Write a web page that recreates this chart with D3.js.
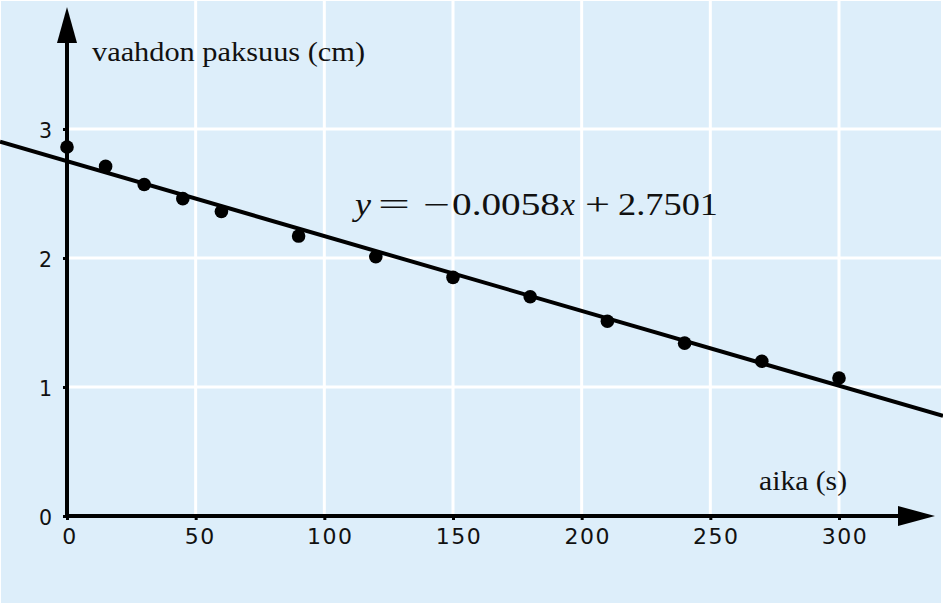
<!DOCTYPE html>
<html>
<head>
<meta charset="utf-8">
<script src="https://cdn.jsdelivr.net/npm/d3@7"></script>
<style>
html,body{margin:0;padding:0;background:#fff;}
svg{display:block;}
</style>
</head>
<body>
<script>
const timesS = [0, 15, 30, 45, 60, 90, 120, 150, 180, 210, 240, 270, 300];
const thicknessCm = [2.86, 2.71, 2.57, 2.46, 2.36, 2.17, 2.01, 1.85, 1.70, 1.51, 1.34, 1.20, 1.07];
const xTicks = [0, 50, 100, 150, 200, 250, 300];
const yTicks = [0, 1, 2, 3];
const slope = -0.0058, intercept = 2.7501;
const yLabel = "vaahdon paksuus (cm)";
const xLabel = "aika (s)";

const W = 943, H = 605;
const svg = d3.select("body").append("svg").attr("width", W).attr("height", H);

const x = d3.scaleLinear().domain([0, 300]).range([67, 839]);
const y = d3.scaleLinear().domain([0, 3]).range([516, 129]);

// background
svg.append("rect").attr("x", 1).attr("y", 1).attr("width", 940).attr("height", 602).attr("fill", "#ddeefa");

// grid
const g = svg.append("g");
g.selectAll("line.v").data(xTicks.filter(d => d > 0)).join("line")
  .attr("x1", d => x(d)).attr("x2", d => x(d)).attr("y1", y(0)).attr("y2", 1)
  .attr("stroke", "#fff").attr("stroke-width", 3);
g.selectAll("line.h").data(yTicks.filter(d => d > 0)).join("line")
  .attr("x1", x(0)).attr("x2", 941).attr("y1", d => y(d)).attr("y2", d => y(d))
  .attr("stroke", "#fff").attr("stroke-width", 3);

// axes using d3 axis for ticks
const xAxis = svg.append("g").attr("transform", `translate(0,${y(0)})`)
  .call(d3.axisBottom(x).tickValues(xTicks).tickSize(4).tickPadding(9).tickFormat(d3.format("d")));
xAxis.select(".domain").remove();
xAxis.selectAll("line").attr("stroke", "#000").attr("stroke-width", 3);
xAxis.selectAll("text").attr("font-family", "'DejaVu Sans', sans-serif").attr("font-size", 22)
  .attr("letter-spacing", "1.5px")
  .attr("dx", d => (String(d).length * 1.5 + 1) + "px")
  .attr("fill", "#111").attr("dy", "0.7em");

const yAxis = svg.append("g").attr("transform", `translate(${x(0)},0)`)
  .call(d3.axisLeft(y).tickValues(yTicks).tickSize(4).tickPadding(11).tickFormat(d3.format("d")));
yAxis.select(".domain").remove();
yAxis.selectAll("line").attr("stroke", "#000").attr("stroke-width", 3);
yAxis.selectAll("text").attr("font-family", "'DejaVu Sans', sans-serif").attr("font-size", 20.5)
  .attr("fill", "#111").attr("dy", "0.4em");

// axis lines with arrows
svg.append("line").attr("x1", x(0) - 2).attr("x2", 905).attr("y1", y(0)).attr("y2", y(0))
  .attr("stroke", "#000").attr("stroke-width", 4);
svg.append("path").attr("d", `M935,${y(0)} L898,${y(0)-10} L898,${y(0)+10} Z`).attr("fill", "#000");
svg.append("line").attr("x1", x(0)).attr("x2", x(0)).attr("y1", y(0) + 2).attr("y2", 40)
  .attr("stroke", "#000").attr("stroke-width", 4);
svg.append("path").attr("d", `M${x(0)},7 L${x(0)-10},43 L${x(0)+10},43 Z`).attr("fill", "#000");

// regression line
const xStart = x.invert(0), xEnd = x.invert(W);
svg.append("line")
  .attr("x1", x(xStart)).attr("y1", y(slope * xStart + intercept))
  .attr("x2", x(xEnd)).attr("y2", y(slope * xEnd + intercept))
  .attr("stroke", "#000").attr("stroke-width", 4);

// points
svg.selectAll("circle.pt").data(timesS.map((t, i) => [t, thicknessCm[i]])).join("circle")
  .attr("cx", d => x(d[0])).attr("cy", d => y(d[1])).attr("r", 6.8).attr("fill", "#000");

// labels
const serif = "'Liberation Serif', 'Times New Roman', serif";
svg.append("text").attr("x", 92).attr("y", 61).attr("font-family", serif)
  .attr("font-size", 28).attr("fill", "#111")
  .attr("textLength", 273).attr("lengthAdjust", "spacingAndGlyphs").text(yLabel);
svg.append("text").attr("x", 759).attr("y", 490).attr("font-family", serif)
  .attr("font-size", 28).attr("fill", "#111")
  .attr("textLength", 88).attr("lengthAdjust", "spacingAndGlyphs").text(xLabel);

// equation pieces
const eqParts = [
  {t: "y", x: 355, w: 16, it: true},
  {t: "=", x: 378, w: 32, it: false},
  {t: "\u2212", x: 423, w: 27, it: false},
  {t: "0.0058", x: 452, w: 108, it: false},
  {t: "x", x: 561, w: 14, it: true},
  {t: "+", x: 585, w: 25, it: false},
  {t: "2.7501", x: 618, w: 100, it: false}
];
svg.append("g").selectAll("text").data(eqParts).join("text")
  .attr("x", d => d.x).attr("y", 215)
  .attr("font-family", serif).attr("font-size", 31).attr("fill", "#111")
  .attr("font-style", d => d.it ? "italic" : "normal")
  .attr("textLength", d => d.w).attr("lengthAdjust", "spacingAndGlyphs")
  .text(d => d.t);
</script>
</body>
</html>
